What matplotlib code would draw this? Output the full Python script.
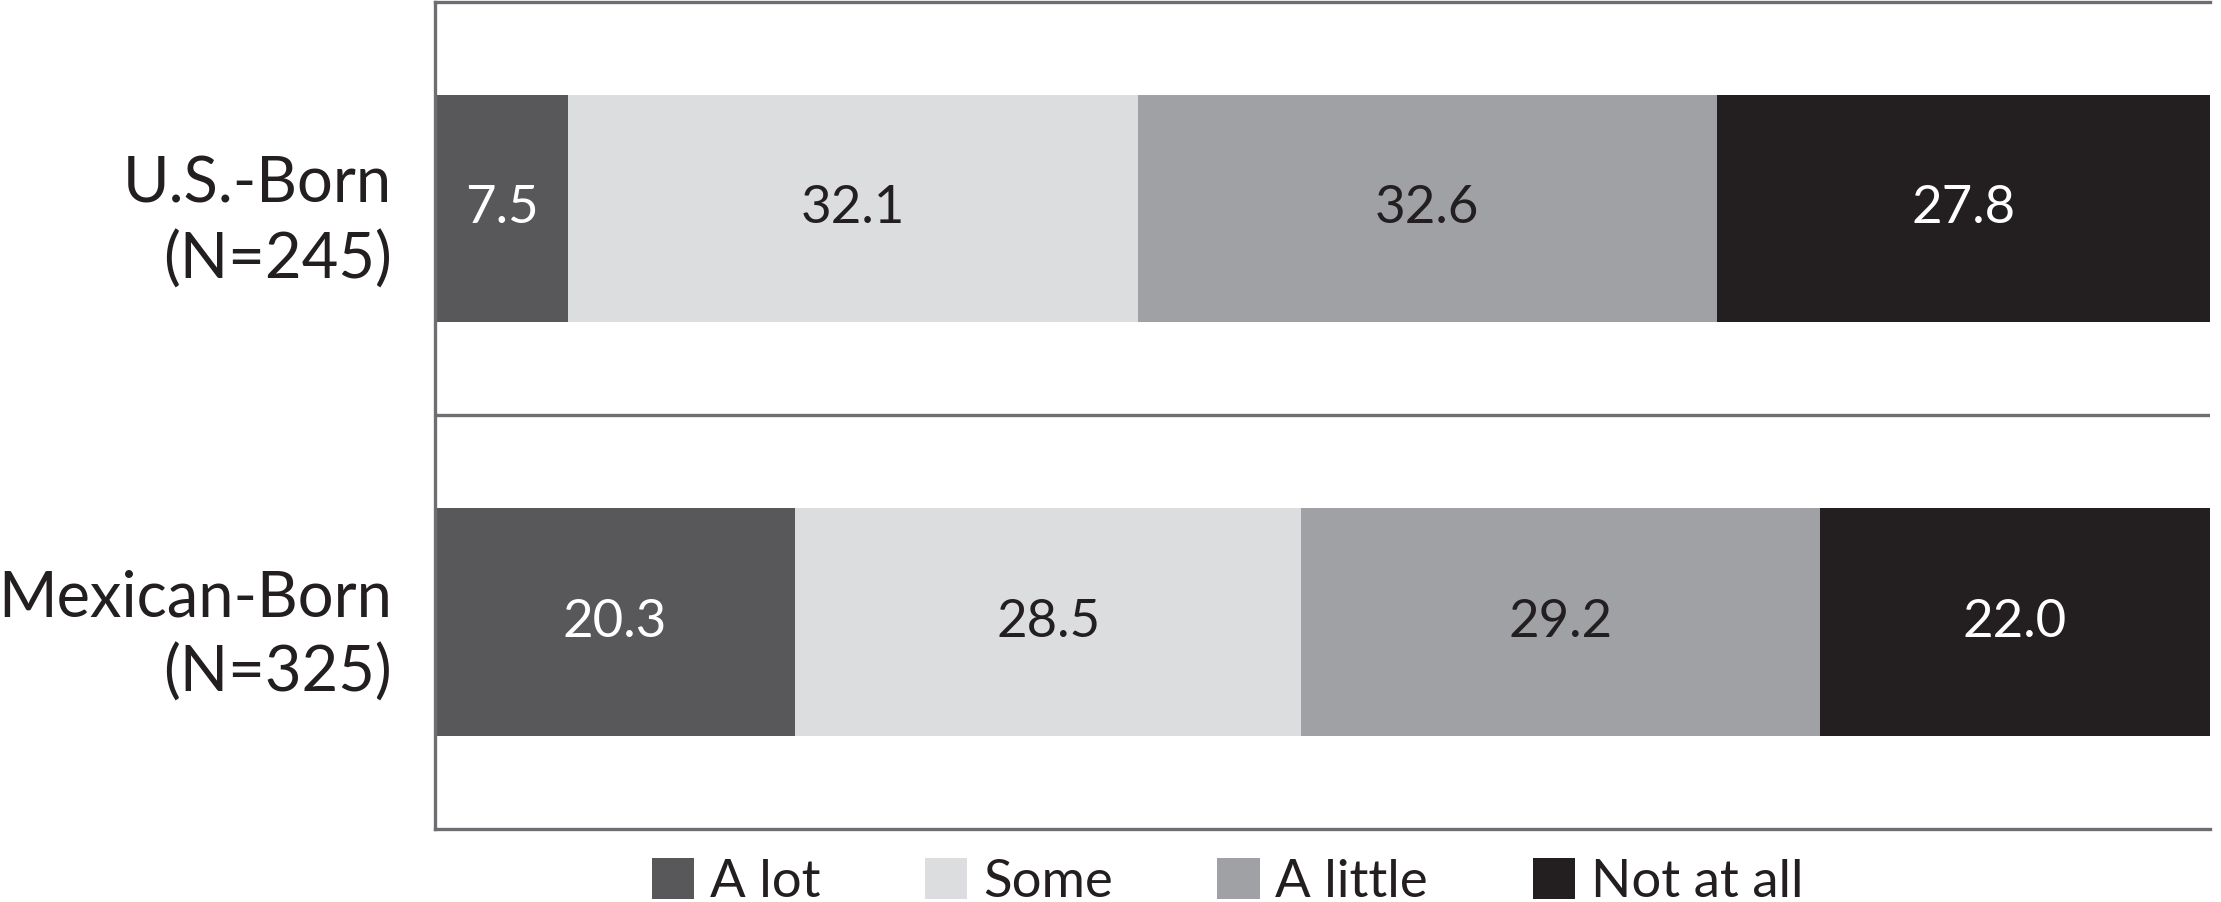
import matplotlib
matplotlib.use("Agg")
import matplotlib.pyplot as plt
from matplotlib.patches import Patch

plt.rcParams['font.family'] = ['Lato', 'DejaVu Sans']

groups = ["U.S.-Born\n(N=245)", "Mexican-Born\n(N=325)"]
categories = ["A lot", "Some", "A little", "Not at all"]
us_born = [7.5, 32.1, 32.6, 27.8]
mexican_born = [20.3, 28.5, 29.2, 22.0]
values = [us_born, mexican_born]
colors = ["#58585a", "#dcdddf", "#a0a1a4", "#231f20"]
text_colors = ["white", "#231f20", "#231f20", "white"]
spine_color = "#6d6e71"

fig = plt.figure(figsize=(22.21, 9.02), dpi=100)
ax = fig.add_axes([435/2221, 73/902, 1775/2221, 827.5/902])

for gi, vals in enumerate(values):
    left = 0.0
    for ci, v in enumerate(vals):
        ax.barh(gi, v, left=left, height=0.55, color=colors[ci], edgecolor='none')
        ax.text(left + v/2, gi, f"{v:.1f}", ha='center', va='center',
                fontsize=38, color=text_colors[ci])
        left += v

ax.set_xlim(0, 100)
ax.set_ylim(1.5, -0.5)
ax.axhline(0.5, color=spine_color, lw=2.4)
ax.set_yticks(range(len(groups)))
ax.set_yticklabels(groups, fontsize=45.5, color="#231f20", ha='right', linespacing=1.35)
ax.tick_params(axis='y', length=0, pad=31)
ax.set_xticks([])
for s in ['left', 'bottom', 'top']:
    ax.spines[s].set_color(spine_color)
    ax.spines[s].set_linewidth(2.4)
ax.spines['right'].set_visible(False)

handles = [Patch(facecolor=c, edgecolor='none') for c in colors]
fig.legend(handles, categories, loc='center left', bbox_to_anchor=(652/2221, 20/902),
           ncol=4, frameon=False, fontsize=38, handlelength=0.8, handleheight=0.8,
           handletextpad=0.3, columnspacing=1.98, labelcolor="#231f20",
           borderaxespad=0, borderpad=0)

fig.savefig("out.png", dpi=100)
